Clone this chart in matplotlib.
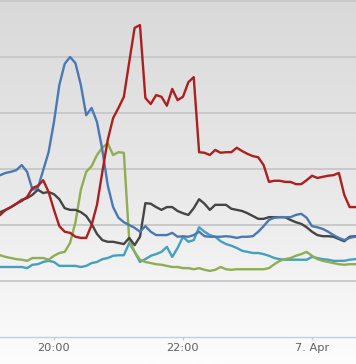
import numpy as np
import pandas as pd
import matplotlib
matplotlib.use("Agg")
import matplotlib.pyplot as plt
from matplotlib.colors import LinearSegmentedColormap

# 5-minute samples, 19:05 .. 00:45
times = pd.date_range("2013-04-06 19:05", periods=69, freq="5min")

blue = [28.6, 28.9, 29.3, 29.5, 29.8, 30.7, 29.5, 26.3, 26.6, 29.8,
        33.0, 38.4, 45.0, 48.8, 50.0, 48.9, 45.0, 39.6, 40.9, 38.4,
        33.4, 27.1, 23.2, 21.3, 20.5, 20.0, 19.5, 18.8, 19.8, 18.8,
        18.2, 18.2, 18.2, 18.6, 17.9, 18.0, 17.9, 18.2, 18.8, 18.0,
        17.9, 17.9, 17.9, 18.0, 17.9, 17.7, 17.9, 17.9, 18.0, 18.8,
        19.8, 20.9, 21.3, 21.4, 21.4, 21.4, 21.8, 22.0, 21.3, 19.8,
        19.6, 19.3, 18.8, 18.2, 17.7, 17.3, 17.7, 17.9, 17.9]

red = [21.3, 21.8, 22.7, 23.2, 23.8, 24.3, 25.0, 26.6, 27.0, 28.0,
       25.9, 22.7, 19.8, 18.8, 18.6, 17.9, 17.7, 17.7, 20.0, 23.6,
       29.5, 35.2, 39.1, 40.9, 42.9, 49.1, 55.2, 55.7, 42.7, 41.6,
       43.2, 42.9, 41.3, 44.3, 42.3, 42.9, 45.5, 46.4, 33.0, 32.9,
       32.5, 33.4, 32.9, 33.0, 33.0, 33.8, 33.2, 32.7, 32.3, 32.1,
       30.7, 27.7, 27.9, 27.9, 27.7, 27.7, 27.3, 27.3, 28.0, 28.8,
       28.4, 28.6, 28.8, 28.9, 29.3, 25.4, 23.2, 23.2, 23.2]

black = [21.8, 22.3, 22.7, 23.2, 23.8, 24.5, 24.8, 25.4, 26.3, 25.7,
         25.9, 25.5, 24.6, 23.0, 22.7, 22.7, 22.3, 21.6, 20.2, 18.4,
         17.3, 17.0, 17.0, 16.8, 16.6, 17.7, 16.4, 17.9, 23.9, 23.8,
         23.2, 22.7, 23.2, 23.2, 22.5, 22.1, 21.8, 23.0, 24.6, 23.8,
         22.7, 23.6, 23.6, 23.6, 22.9, 22.7, 22.5, 22.1, 21.6, 21.1,
         21.1, 21.4, 21.4, 21.4, 21.4, 20.9, 20.5, 20.2, 19.6, 18.8,
         18.2, 18.0, 18.0, 17.9, 17.5, 17.1, 17.9, 18.0, 18.0]

green = [14.8, 14.6, 14.3, 14.1, 13.9, 13.8, 13.6, 14.1, 14.1, 14.1,
         13.8, 14.5, 15.0, 15.2, 16.8, 20.5, 26.3, 29.5, 30.5, 32.5,
         33.8, 34.6, 32.5, 33.0, 32.9, 17.3, 15.2, 13.8, 13.4, 13.2,
         13.0, 12.9, 12.7, 12.5, 12.5, 12.3, 12.3, 12.1, 12.3, 12.0,
         11.8, 12.0, 12.5, 12.1, 12.0, 12.1, 12.1, 12.1, 12.1, 12.1,
         12.1, 12.3, 13.0, 13.6, 13.9, 14.1, 14.5, 14.8, 15.2, 14.5,
         13.9, 13.6, 13.4, 13.2, 13.0, 12.9, 13.0, 13.0, 13.0]

cyan = [12.5, 12.5, 12.5, 12.5, 12.5, 12.5, 12.3, 12.9, 13.0, 13.4,
        13.6, 13.4, 12.7, 12.7, 12.7, 12.7, 12.5, 12.7, 13.2, 13.4,
        13.9, 14.1, 14.5, 14.6, 14.6, 16.8, 15.2, 13.4, 13.9, 14.5,
        14.8, 15.2, 16.1, 14.3, 15.9, 17.9, 17.0, 17.3, 19.6, 18.8,
        18.2, 17.9, 17.1, 16.6, 16.3, 15.9, 15.4, 15.2, 15.0, 15.0,
        14.8, 14.5, 14.1, 13.9, 13.8, 13.8, 13.8, 13.8, 13.8, 14.3,
        14.1, 13.9, 13.8, 13.6, 13.6, 13.6, 13.8, 13.9, 13.9]

tick_times = ["2013-04-06 20:00", "2013-04-06 22:00", "2013-04-07 00:00"]
tick_labels = ["20:00", "22:00", "7. Apr"]

fig = plt.figure(figsize=(3.56, 3.64), dpi=100)

# grey-to-white background gradient
bg = fig.add_axes([0, 0, 1, 1])
grad = np.linspace(0, 1, 256).reshape(-1, 1)
cmap = LinearSegmentedColormap.from_list("bg", ["#d9d9d9", "#e8e8e8", "#fdfdfd"])
bg.imshow(grad, aspect="auto", cmap=cmap, extent=[0, 1, 0, 1])
bg.axis("off")

ax = fig.add_axes([0, 27 / 364, 1, 337 / 364])
ax.patch.set_alpha(0)

ax.plot(times, cyan, color="#45a0c0", lw=1.7)
ax.plot(times, green, color="#8fad52", lw=1.7)
ax.plot(times, black, color="#454545", lw=1.7)
ax.plot(times, blue, color="#4a78b4", lw=1.7)
ax.plot(times, red, color="#ad1f1f", lw=1.7)

ax.set_ylim(0, 337 / 5.6)
ax.set_xlim(pd.Timestamp("2013-04-06 19:09:48"), pd.Timestamp("2013-04-07 00:40:56"))
ax.set_yticks(range(10, 61, 10))
ax.yaxis.grid(True, color="#c9c9c9", lw=1.4)
ax.set_axisbelow(True)
ax.tick_params(axis="y", left=False, labelleft=False)

ax.set_xticks(pd.to_datetime(tick_times))
ax.set_xticklabels(tick_labels)
ax.tick_params(axis="x", color="#c0d0e0", length=2.5, width=1,
               labelcolor="#606060", labelsize=8.2, pad=1.5)

for s in ["top", "left", "right"]:
    ax.spines[s].set_visible(False)
ax.spines["bottom"].set_color("#c0d0e0")
ax.spines["bottom"].set_linewidth(1)

fig.savefig("out.png", dpi=100)
